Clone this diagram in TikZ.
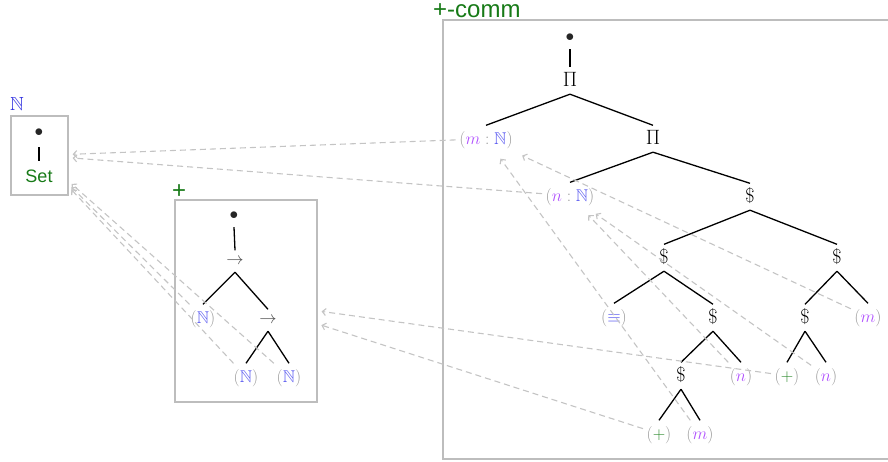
\documentclass[tikz,border=0pt]{standalone}
\usepackage{amssymb}
\usepackage{fontspec}
\newfontfamily\lsans{Liberation Sans}
\usetikzlibrary{arrows.meta}
\definecolor{pg}{HTML}{999999}
\definecolor{nb}{HTML}{5a5af0}
\definecolor{pu}{HTML}{b050ff}
\definecolor{gp}{HTML}{2e8b2e}
\definecolor{gl}{HTML}{177a17}
\definecolor{bl}{HTML}{3434e0}
\definecolor{bx}{HTML}{bdbdbd}
\definecolor{rl}{HTML}{c4c4c4}
\newcommand\pn[1]{$\color{pg}(#1)$}
\tikzset{
  tn/.style={font=\fontsize{17}{20}\selectfont, text height=15pt, text depth=4.5pt, inner sep=3.5pt, anchor=base, text=black!85},
  op/.style={tn, font=\fontsize{20}{24}\selectfont, text=black},
  tar/.style={tn, text height=10pt, text=black!70},
  edge/.style={line width=1.3pt, black},
  refl/.style={draw=rl, line width=1.1pt, dash pattern=on 6pt off 4pt, -{Straight Barb[length=3.5pt,width=7pt]}},
  box/.style={draw=bx, line width=1.2pt, inner sep=0pt},
  lbl/.style={font=\lsans\fontsize{24}{26}\selectfont, text=gl, anchor=base west, inner sep=0pt, text height=14pt}
}
\begin{document}
\begin{tikzpicture}[x=1pt,y=-1pt]
\useasboundingbox (0,0) rectangle (888,461);
\clip (0,0) rectangle (888,461);
% N box
\node[box, minimum width=57pt, minimum height=79pt] (Nbox) at (39.5,155.5) {};
\node[lbl, text=bl, font=\fontsize{19}{22}\selectfont] (Nl) at (10,110) {$\mathbb{N}$};
\node[tn] (d3) at (39,136) {$\bullet$};
\node[tn, font=\lsans\fontsize{18}{20}\selectfont, text=gl, text height=17.5pt] (set) at (39,182) {Set};
% + box
\node[box, minimum width=142pt, minimum height=202pt] (Pbox) at (246,301) {};
\node[lbl] (Pl) at (172,198) {+};
\node[tn] (d2) at (234,219) {$\bullet$};
\node[tar] (A1) at (235,264) {$\rightarrow$};
\node[tn] (NN1) at (203,323) {\pn{\textcolor{nb}{\mathbb{N}}}};
\node[tar] (A2) at (268,323) {$\rightarrow$};
\node[tn] (NN2) at (246,382) {\pn{\textcolor{nb}{\mathbb{N}}}};
\node[tn] (NN3) at (289,382) {\pn{\textcolor{nb}{\mathbb{N}}}};
% +-comm box
\node[box, minimum width=449pt, minimum height=439pt] (Cbox) at (667.5,239.5) {};
\node[lbl] (Cl) at (433,17) {+-comm};
\node[tn] (d1) at (570,41) {$\bullet$};
\node[op] (Pi1) at (570,86) {$\Pi$};
\node[tn] (mN) at (486,144) {\pn{\textcolor{pu}{m}:\textcolor{nb}{\mathbb{N}}}};
\node[op] (Pi2) at (653,144) {$\Pi$};
\node[tn] (nN) at (570,201) {\pn{\textcolor{pu}{n}:\textcolor{nb}{\mathbb{N}}}};
\node[op] (D1) at (750,202) {\$};
\node[op] (D2) at (664,263) {\$};
\node[op] (D3) at (837,263) {\$};
\node[tn] (eq) at (614,322) {\pn{\textcolor{nb}{\equiv}}};
\node[op] (D4) at (713,323) {\$};
\node[op] (D5) at (805,323) {\$};
\node[tn] (m1) at (868,322) {\pn{\textcolor{pu}{m}}};
\node[op] (D6) at (681,381) {\$};
\node[tn] (n1) at (741,381) {\pn{\textcolor{pu}{n}}};
\node[tn] (p1) at (787,381) {\pn{\textcolor{gp}{+}}};
\node[tn] (n2) at (826,381) {\pn{\textcolor{pu}{n}}};
\node[tn] (p2) at (659,439) {\pn{\textcolor{gp}{+}}};
\node[tn] (m2) at (700,439) {\pn{\textcolor{pu}{m}}};
% tree edges
\draw[edge, shorten <=3pt] (d3.south) -- (set.north);
\foreach \a/\b in {d2/A1, A1/NN1, A1/A2, A2/NN2, A2/NN3,
  d1/Pi1, Pi1/mN, Pi1/Pi2, Pi2/nN, Pi2/D1, D1/D2, D1/D3, D2/eq, D2/D4,
  D3/D5, D3/m1, D4/D6, D4/n1, D5/p1, D5/n2, D6/p2, D6/m2}
  \draw[edge] (\a.south) -- (\b.north);
% reference arrows
\foreach \a/\b/\s in {mN/Nbox/4pt, nN/Nbox/4pt, NN1/Nbox/4pt, NN2/Nbox/4pt, NN3/Nbox/4pt,
  p1/Pbox/4pt, p2/Pbox/4pt, m1/mN/8pt, m2/mN/8pt, n1/nN/8pt, n2/nN/8pt}
  \draw[refl, shorten >=\s] (\a) -- (\b);
\end{tikzpicture}
\end{document}
